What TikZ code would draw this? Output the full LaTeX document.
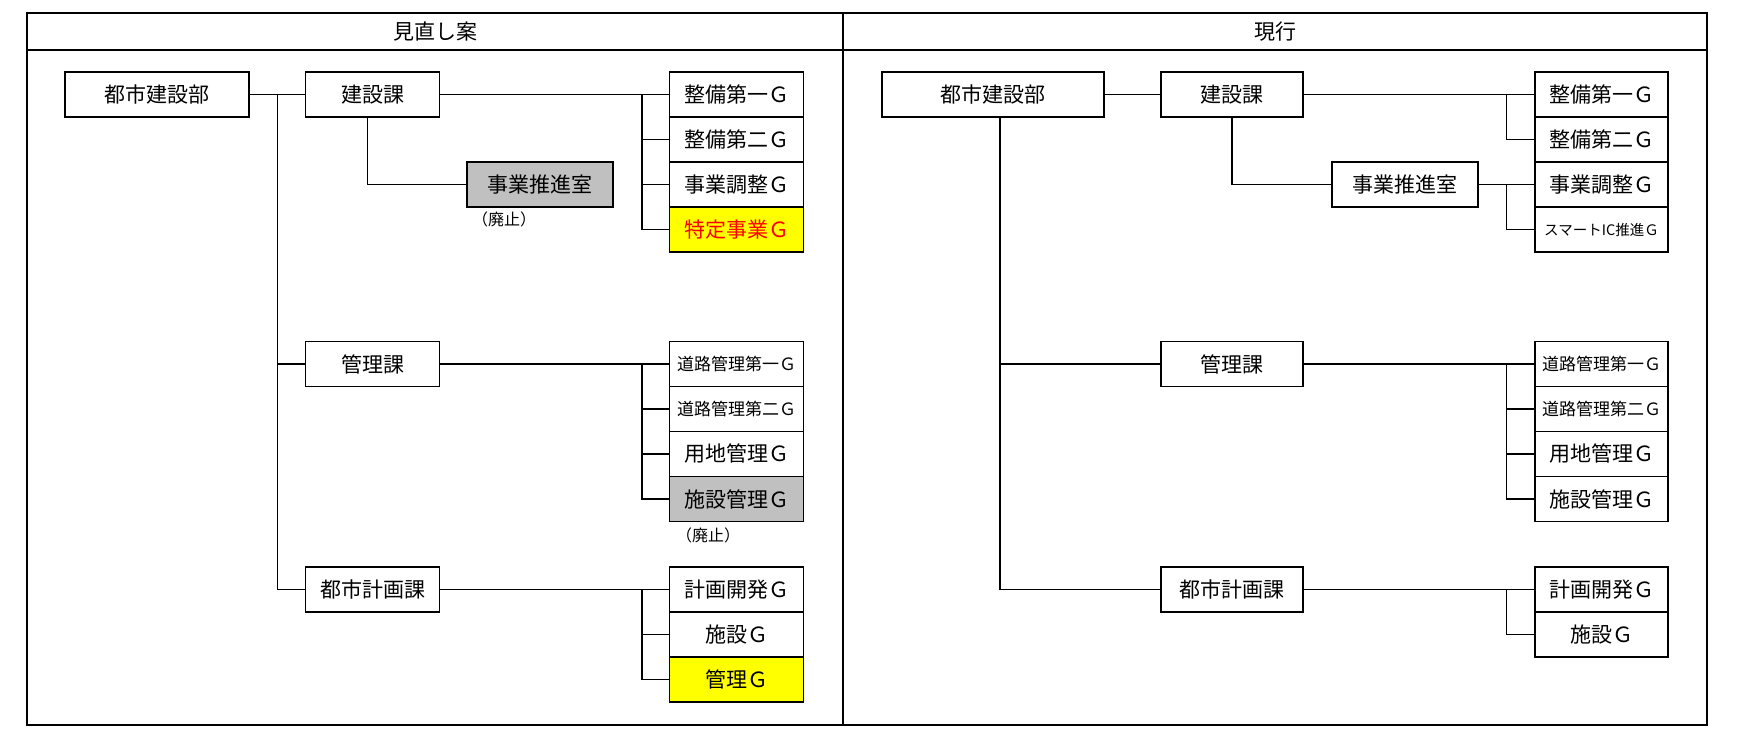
\documentclass[tikz,border=0pt]{standalone}
\usepackage{fontspec}
\usepackage{xcolor}
\usepackage{tikz}
\usetikzlibrary{positioning}
\setmainfont{Noto Sans CJK JP}
\definecolor{cHaishi}{RGB}{192,192,192}
\definecolor{cNeu}{RGB}{255,255,0}
\definecolor{cRot}{RGB}{255,0,0}

\begin{document}
\begin{tikzpicture}[x=1pt,y=-1pt,font=\fontsize{21}{23}\selectfont,
  box/.style={draw,line width=1.9pt,inner sep=0pt,outer sep=0pt,minimum height=45pt},
  grp/.style={box,minimum width=134pt},
  ka/.style={box,minimum width=134pt},
  klein/.style={font=\fontsize{17}{19}\selectfont},
  note/.style={font=\fontsize{16}{18}\selectfont,inner sep=0pt},
  ln/.style={line width=1.9pt}]
\useasboundingbox (0,0) rectangle (1751,745);
\draw[line width=1.9pt] (26.7,13.3) rectangle (1707,725);
\draw[line width=1.9pt] (26.7,50) -- (1707,50);
\draw[line width=1.9pt] (843,13.3) -- (843,725);
\node (hL) at (435,31.5) {見直し案};
\node (hR) at (1275,31.5) {現行};
% Minaoshi-an
\node[box,minimum width=184pt] (L0) at (157,94.5) {都市建設部};
\node[ka] (L1) at (372.5,94.5) {建設課};
\node[ka] (L2) at (372.5,364) {管理課};
\node[ka] (L3) at (372.5,589.5) {都市計画課};
\node[box,minimum width=146pt,fill=cHaishi] (L1s) at (540,184.5) {事業推進室};
\node[note] (Lx1) at (504,219) {（廃止）};
\node[grp] (La1) at (736.5,94.5) {整備第一Ｇ};
\node[grp,below=0pt of La1] (La2) {整備第二Ｇ};
\node[grp,below=0pt of La2] (La3) {事業調整Ｇ};
\node[grp,below=0pt of La3,fill=cNeu,text=cRot] (La4) {特定事業Ｇ};
\node[grp,klein] (Lb1) at (736.5,364) {道路管理第一Ｇ};
\node[grp,klein,below=0pt of Lb1] (Lb2) {道路管理第二Ｇ};
\node[grp,below=0pt of Lb2] (Lb3) {用地管理Ｇ};
\node[grp,below=0pt of Lb3,fill=cHaishi] (Lb4) {施設管理Ｇ};
\node[note] (Lx2) at (708,535) {（廃止）};
\node[grp] (Lc1) at (736.5,589.5) {計画開発Ｇ};
\node[grp,below=0pt of Lc1] (Lc2) {施設Ｇ};
\node[grp,below=0pt of Lc2,fill=cNeu] (Lc3) {管理Ｇ};
\coordinate (Lt) at (277.5,94.5);
\coordinate (Lk) at (642,94.5);
\draw[ln] (L0) -- (L1);
\draw[ln] (Lt) |- (L3.west);
\draw[ln] (Lt |- L2.west) -- (L2.west);
\draw[ln] ([xshift=-5pt]L1.south) |- (L1s.west);
\draw[ln] (L1.east) -- (La1.west);
\draw[ln] (L2.east) -- (Lb1.west);
\draw[ln] (L3.east) -- (Lc1.west);
\draw[ln] (Lk |- La1.west) |- (La4.west);
\draw[ln] (Lk |- Lb1.west) |- (Lb4.west);
\draw[ln] (Lk |- Lc1.west) |- (Lc3.west);
\foreach \n in {2,3} {
  \draw[ln] (Lk |- La\n.west) -- (La\n.west);
  \draw[ln] (Lk |- Lb\n.west) -- (Lb\n.west);
}
\draw[ln] (Lk |- Lc2.west) -- (Lc2.west);
% Genkou
\node[box,minimum width=222pt] (R0) at (993,94.5) {都市建設部};
\node[ka,minimum width=142pt] (R1) at (1232,94.5) {建設課};
\node[ka,minimum width=142pt] (R2) at (1232,364) {管理課};
\node[ka,minimum width=142pt] (R3) at (1232,589.5) {都市計画課};
\node[box,minimum width=146pt] (R1s) at (1405,184.5) {事業推進室};
\node[grp,minimum width=133pt] (Ra1) at (1601.5,94.5) {整備第一Ｇ};
\node[grp,minimum width=133pt,below=0pt of Ra1] (Ra2) {整備第二Ｇ};
\node[grp,minimum width=133pt,below=0pt of Ra2] (Ra3) {事業調整Ｇ};
\node[grp,minimum width=133pt,below=0pt of Ra3,font=\fontsize{14.5}{16}\selectfont] (Ra4) {スマートIC推進Ｇ};
\node[grp,minimum width=133pt,klein] (Rb1) at (1601.5,364) {道路管理第一Ｇ};
\node[grp,minimum width=133pt,klein,below=0pt of Rb1] (Rb2) {道路管理第二Ｇ};
\node[grp,minimum width=133pt,below=0pt of Rb2] (Rb3) {用地管理Ｇ};
\node[grp,minimum width=133pt,below=0pt of Rb3] (Rb4) {施設管理Ｇ};
\node[grp,minimum width=133pt] (Rc1) at (1601.5,589.5) {計画開発Ｇ};
\node[grp,minimum width=133pt,below=0pt of Rc1] (Rc2) {施設Ｇ};
\coordinate (Rt) at ([xshift=7pt]R0.south);
\coordinate (Rk) at (1506.5,94.5);
\draw[ln] (R0) -- (R1);
\draw[line width=1.4pt] (Rt) |- (R3.west);
\draw[ln] (Rt |- R2.west) -- (R2.west);
\draw[ln] (R1.south) |- (R1s.west);
\draw[ln] (R1.east) -- (Ra1.west);
\draw[ln] (Rk |- Ra1.west) |- (Ra2.west);
\draw[ln] (R1s.east) -- (Ra3.west);
\draw[ln] (Rk |- Ra3.west) |- (Ra4.west);
\draw[ln] (R2.east) -- (Rb1.west);
\draw[ln] (R3.east) -- (Rc1.west);
\draw[ln] (Rk |- Rb1.west) |- (Rb4.west);
\foreach \n in {2,3}
  \draw[ln] (Rk |- Rb\n.west) -- (Rb\n.west);
\draw[ln] (Rk |- Rc1.west) |- (Rc2.west);
\end{tikzpicture}
\end{document}
